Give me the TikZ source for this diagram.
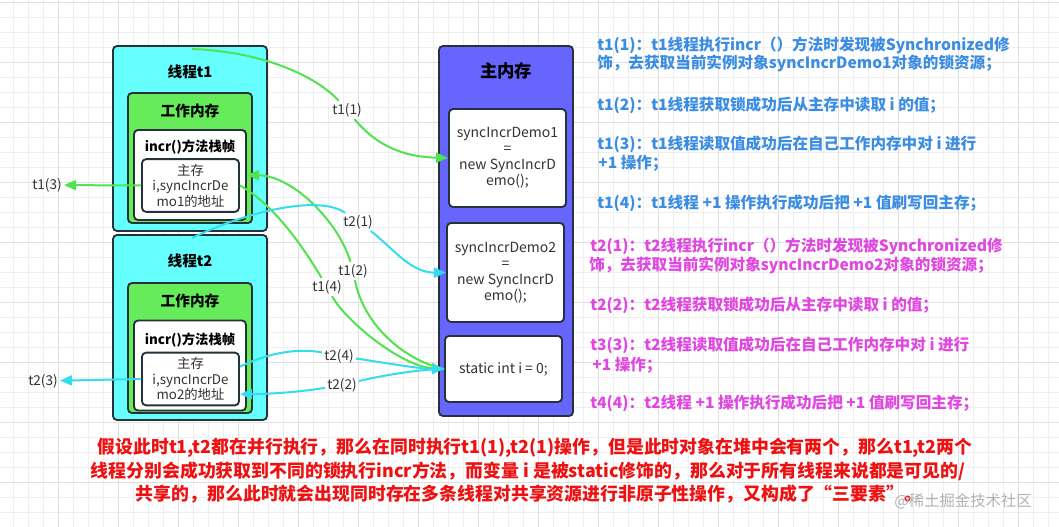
\documentclass[tikz,border=0pt]{standalone}
\usepackage{fontspec}
\setmainfont{Noto Sans CJK SC}
\usetikzlibrary{arrows.meta}
\definecolor{gridminor}{HTML}{EFEFEF}
\definecolor{gridmajor}{HTML}{E0E0E0}
\definecolor{cyanfill}{HTML}{66FFFF}
\definecolor{greenfill}{HTML}{66EB5A}
\definecolor{bluefill}{HTML}{6666FF}
\definecolor{border}{HTML}{26323A}
\definecolor{garr}{HTML}{4FE34F}
\definecolor{carr}{HTML}{33DDEE}
\definecolor{bluetxt}{HTML}{3B8DE3}
\definecolor{pinktxt}{HTML}{E046E0}
\definecolor{redtxt}{HTML}{EE1111}
\definecolor{labtxt}{HTML}{333333}
\tikzset{
  box/.style={draw=border, line width=1.4pt, rounded corners=3pt, inner sep=0pt},
  threadbox/.style={box, fill=cyanfill, minimum width=115.5pt, minimum height=138.75pt},
  workbox/.style={box, fill=greenfill, minimum width=93pt, minimum height=97.5pt},
  framebox/.style={box, fill=white, minimum width=84pt, minimum height=67.5pt},
  addrbox/.style={box, fill=white, minimum width=72.75pt, minimum height=39.5pt, align=center, font=\fontsize{10}{11.6}\selectfont, text=labtxt},
  mainbox/.style={box, fill=bluefill, minimum width=100.5pt, minimum height=277.5pt},
  objbox/.style={box, fill=white, minimum width=87.75pt, align=center, font=\fontsize{10.5}{12}\selectfont, text=labtxt},
  title/.style={font=\fontsize{11}{13}\selectfont\bfseries, text=black},
  lab/.style={font=\fontsize{10.2}{12}\selectfont, text=labtxt, inner sep=1.5pt},
  gline/.style={draw=garr, line width=1.5pt},
  cline/.style={draw=carr, line width=1.5pt},
  tip/.style={-{Triangle[length=9pt,width=7.5pt]}},
  bluet/.style={anchor=west, inner sep=0pt, font=\fontsize{11.7}{13}\selectfont\bfseries, text=bluetxt},
  pinkt/.style={anchor=west, inner sep=0pt, font=\fontsize{11.7}{13}\selectfont\bfseries, text=pinktxt},
  redt/.style={inner sep=0pt, font=\fontsize{13.4}{15}\selectfont\bfseries, text=redtxt},
}
\begin{document}
\begin{tikzpicture}[x=0.75pt,y=-0.75pt]
\useasboundingbox (0,0) rectangle (1059,527);
\fill[white] (0,0) rectangle (1059,527);
% grid
\foreach \i in {0,...,70} {
  \draw[gridminor, line width=0.5pt] ({13.3+15*\i},0) -- ({13.3+15*\i},527);
}
\foreach \i in {0,...,35} {
  \draw[gridminor, line width=0.5pt] (0,{2.3+15*\i}) -- (1059,{2.3+15*\i});
}
\foreach \i in {0,...,17} {
  \draw[gridmajor, line width=0.6pt] ({58.3+60*\i},0) -- ({58.3+60*\i},527);
}
\foreach \i in {0,...,8} {
  \draw[gridmajor, line width=0.6pt] (0,{2.3+60*\i}) -- (1059,{2.3+60*\i});
}

% thread t1
\node[threadbox] (th1) at (190,138.5) {};
\node[title] (th1t) at (190,72) {线程t1};
\node[workbox] (wk1) at (190,158) {};
\node[title] (wk1t) at (190,111) {工作内存};
\node[framebox] (fr1) at (190,175) {};
\node[title, font=\fontsize{10}{12}\selectfont\bfseries] (fr1t) at (190,147) {incr()方法栈帧};
\node[addrbox] (ad1) at (190.5,185.5) {主存\\i,syncIncrDe\\mo1的地址};

% thread t2
\node[threadbox] (th2) at (190,327.5) {};
\node[title] (th2t) at (190,261) {线程t2};
\node[workbox] (wk2) at (190,348) {};
\node[title] (wk2t) at (190,301) {工作内存};
\node[framebox] (fr2) at (190,365.5) {};
\node[title, font=\fontsize{10}{12}\selectfont\bfseries] (fr2t) at (190,340) {incr()方法栈帧};
\node[addrbox] (ad2) at (190.5,379) {主存\\i,syncIncrDe\\mo2的地址};

% main memory
\node[mainbox] (mm) at (506,231) {};
\node[title, font=\fontsize{13}{15}\selectfont\bfseries] (mmt) at (506,71) {主内存};
\node[objbox, minimum height=73.5pt] (ob1) at (507.5,158) {syncIncrDemo1\\=\\new SyncIncrD\\emo();};
\node[objbox, minimum height=74.25pt] (ob2) at (505.5,272.5) {syncIncrDemo2\\=\\new SyncIncrD\\emo();};
\node[objbox, minimum height=49.5pt] (ob3) at (503.5,369) {static int i = 0;};

% labels
\node[lab] (l11) at (347,110) {t1(1)};
\node[lab] (l12) at (353,271) {t1(2)};
\node[lab] (l13) at (47,185) {t1(3)};
\node[lab] (l14) at (327,287) {t1(4)};
\node[lab] (l21) at (358,222) {t2(1)};
\node[lab] (l22) at (342,385) {t2(2)};
\node[lab] (l23) at (43,381) {t2(3)};
\node[lab] (l24) at (339,356) {t2(4)};

\coordinate (s11) at (192,49);
\coordinate (s21) at (192,238);

% t1 connectors
\draw[gline] (s11) .. controls (270,52) and (320,80) .. (l11);
\draw[gline, tip] (l11) .. controls (380,150) and (410,157) .. (ob1.west);
\draw[gline] (ob3.west) .. controls (410,362) and (365,330) .. (l12);
\draw[gline, tip] (l12) .. controls (340,225) and (295,176) .. (fr1.east);
\draw[gline, tip] (ad1.west) -- (l13);
\draw[gline] (ad1.east) .. controls (275,205) and (305,250) .. (l14);
\draw[gline, tip] (l14) .. controls (345,320) and (400,366) .. (ob3.west);

% t2 connectors
\draw[cline] (s21) .. controls (250,210) and (320,195) .. (l21);
\draw[cline, tip] (l21) .. controls (390,245) and (410,273) .. (ob2.west);
\draw[cline] (ob3.west) .. controls (420,369) and (380,376) .. (l22);
\draw[cline, tip] (l22) .. controls (300,392) and (270,394) .. (ad2.-17);
\draw[cline, tip] (ad2.west) -- (l23);
\draw[cline] (ad2.14) .. controls (270,352) and (300,348) .. (l24);
\draw[cline, tip] (l24) .. controls (380,362) and (420,369) .. (ob3.west);

% right text, t1
\node[bluet] (b1) at (597,45) {t1(1)：t1线程执行incr（）方法时发现被Synchronized修};
\node[bluet] (b2) at (597,63) {饰，去获取当前实例对象syncIncrDemo1对象的锁资源；};
\node[bluet] (b3) at (597,105) {t1(2)：t1线程获取锁成功后从主存中读取 i 的值；};
\node[bluet] (b4) at (597,144) {t1(3)：t1线程读取值成功后在自己工作内存中对 i 进行};
\node[bluet] (b5) at (598,163) {+1 操作；};
\node[bluet] (b6) at (597,203) {t1(4)：t1线程 +1 操作执行成功后把 +1 值刷写回主存；};

% right text, t2
\node[pinkt] (p1) at (590,246) {t2(1)：t2线程执行incr（）方法时发现被Synchronized修};
\node[pinkt] (p2) at (589,265) {饰，去获取当前实例对象syncIncrDemo2对象的锁资源；};
\node[pinkt] (p3) at (590,305) {t2(2)：t2线程获取锁成功后从主存中读取 i 的值；};
\node[pinkt] (p4) at (590,345) {t3(3)：t2线程读取值成功后在自己工作内存中对 i 进行};
\node[pinkt] (p5) at (592,365) {+1 操作；};
\node[pinkt] (p6) at (590,403) {t4(4)：t2线程 +1 操作执行成功后把 +1 值刷写回主存；};

% bottom red text
\node[redt] (r1) at (535,448) {假设此时t1,t2都在并行执行，那么在同时执行t1(1),t2(1)操作，但是此时对象在堆中会有两个，那么t1,t2两个};
\node[redt] (r2) at (528,471) {线程分别会成功获取到不同的锁执行incr方法，而变量 i 是被static修饰的，那么对于所有线程来说都是可见的/};
\node[redt] (r3) at (529,494) {共享的，那么此时就会出现同时存在多条线程对共享资源进行非原子性操作，又构成了“三要素”。};

% watermark
\node[inner sep=0pt, font=\fontsize{11.5}{13}\selectfont, text=black!30] (wm) at (963,501) {@稀土掘金技术社区};
\end{tikzpicture}
\end{document}
